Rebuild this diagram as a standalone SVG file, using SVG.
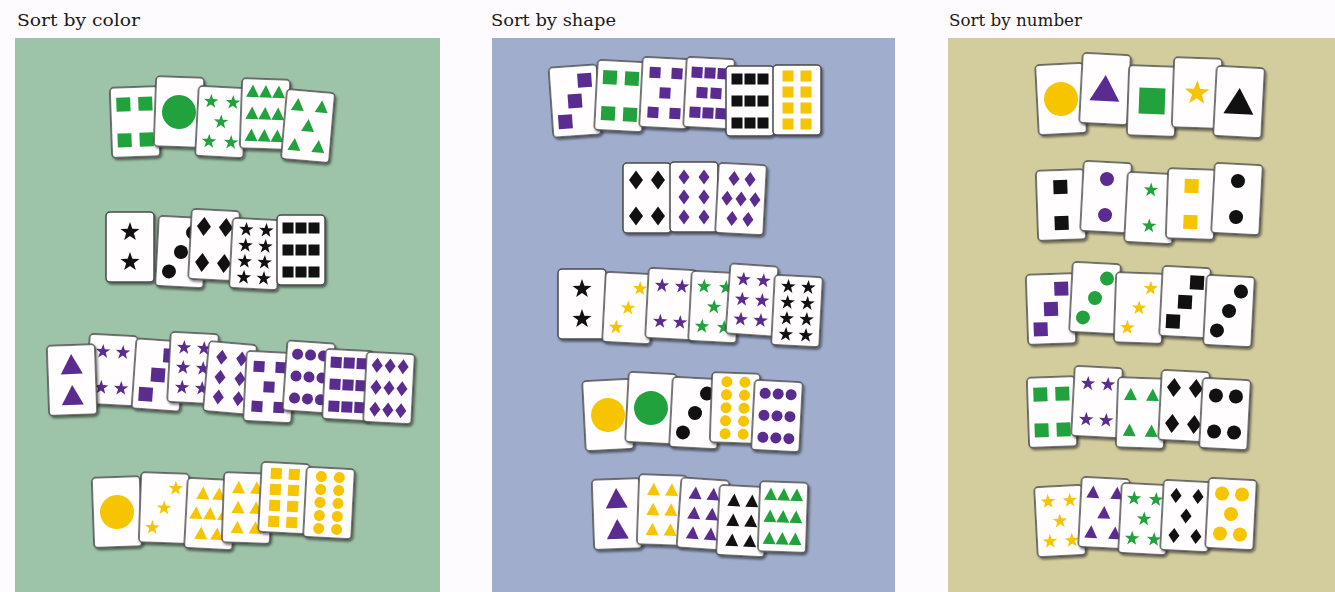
<svg xmlns="http://www.w3.org/2000/svg" width="1335" height="592" viewBox="0 0 1335 592">
<style>
.t{font-family:"DejaVu Serif","Liberation Serif",serif;font-size:17px;fill:#1a1a1a}
.G{fill:#22a23c}.P{fill:#5b2c8f}.B{fill:#111}.Y{fill:#f7c400}
</style>
<defs>
<filter id="sh" x="-20%" y="-20%" width="150%" height="150%"><feDropShadow dx="1.5" dy="2" stdDeviation="1.2" flood-color="#000" flood-opacity="0.5"/></filter>
<rect id="K" x="-24" y="-35" width="48" height="70" rx="4" fill="#fffdfe" stroke="#4a4a4a" stroke-width="1.5" filter="url(#sh)"/>
<rect id="S" x="-5.5" y="-5.5" width="11" height="11"/>
<rect id="Sb" x="-7" y="-7" width="14" height="14"/>
<rect id="Sh" x="-13" y="-13" width="26" height="26"/>
<circle id="C" r="5.5"/>
<circle id="Cb" r="7"/>
<circle id="Ch" r="17"/>
<path id="T" d="M0,-7L6.5,5.5H-6.5Z"/>
<path id="Tb" d="M0,-11L11,9H-11Z"/>
<path id="Th" d="M0,-14L15,12H-15Z"/>
<polygon id="R" points="0,-7.6 1.79,-2.46 7.23,-2.35 2.89,0.94 4.47,6.15 0,3.04 -4.47,6.15 -2.89,0.94 -7.23,-2.35 -1.79,-2.46"/>
<polygon id="Rb" points="0,-10 2.35,-3.24 9.51,-3.09 3.8,1.24 5.88,8.09 0,4 -5.88,8.09 -3.8,1.24 -9.51,-3.09 -2.35,-3.24"/>
<polygon id="Rh" points="0,-13 3.06,-4.21 12.36,-4.02 4.95,1.61 7.64,10.52 0,5.2 -7.64,10.52 -4.95,1.61 -12.36,-4.02 -3.06,-4.21"/>
<path id="D" d="M0,-7.5L5.5,0L0,7.5L-5.5,0Z"/>
<path id="Db" d="M0,-9.5L7,0L0,9.5L-7,0Z"/>
<!-- pip layouts -->
<g id="s4"><use href="#Sb" x="-11" y="-18"/><use href="#Sb" x="11" y="-18"/><use href="#Sb" x="-11" y="18"/><use href="#Sb" x="11" y="18"/></g>
<g id="s9"><use href="#S" x="-13" y="-22"/><use href="#S" x="0" y="-22"/><use href="#S" x="13" y="-22"/><use href="#S" x="-13" y="0"/><use href="#S" x="0" y="0"/><use href="#S" x="13" y="0"/><use href="#S" x="-13" y="22"/><use href="#S" x="0" y="22"/><use href="#S" x="13" y="22"/></g>
<g id="s5"><use href="#S" x="-11" y="-20"/><use href="#S" x="11" y="-20"/><use href="#S" x="0" y="0"/><use href="#S" x="-11" y="20"/><use href="#S" x="11" y="20"/></g>
<g id="s8"><use href="#S" x="-9" y="-24"/><use href="#S" x="9" y="-24"/><use href="#S" x="-9" y="-8"/><use href="#S" x="9" y="-8"/><use href="#S" x="-9" y="8"/><use href="#S" x="9" y="8"/><use href="#S" x="-9" y="24"/><use href="#S" x="9" y="24"/></g>
<g id="s8b"><use href="#S" x="-13" y="-20"/><use href="#S" x="0" y="-20"/><use href="#S" x="13" y="-20"/><use href="#S" x="-7" y="0"/><use href="#S" x="7" y="0"/><use href="#S" x="-13" y="20"/><use href="#S" x="0" y="20"/><use href="#S" x="13" y="20"/></g>
<g id="s3"><use href="#Sb" x="11" y="-20"/><use href="#Sb" x="0" y="0"/><use href="#Sb" x="-11" y="20"/></g>
<g id="s2"><use href="#Sb" x="0" y="-18"/><use href="#Sb" x="0" y="18"/></g>
<g id="c3"><use href="#Cb" x="11" y="-20"/><use href="#Cb" x="0" y="0"/><use href="#Cb" x="-11" y="20"/></g>
<g id="c9"><use href="#C" x="-13" y="-22"/><use href="#C" x="0" y="-22"/><use href="#C" x="13" y="-22"/><use href="#C" x="-13" y="0"/><use href="#C" x="0" y="0"/><use href="#C" x="13" y="0"/><use href="#C" x="-13" y="22"/><use href="#C" x="0" y="22"/><use href="#C" x="13" y="22"/></g>
<g id="c10"><use href="#C" x="-9" y="-26"/><use href="#C" x="9" y="-26"/><use href="#C" x="-9" y="-13"/><use href="#C" x="9" y="-13"/><use href="#C" x="-9" y="0"/><use href="#C" x="9" y="0"/><use href="#C" x="-9" y="13"/><use href="#C" x="9" y="13"/><use href="#C" x="-9" y="26"/><use href="#C" x="9" y="26"/></g>
<g id="c2"><use href="#Cb" x="0" y="-18"/><use href="#Cb" x="0" y="18"/></g>
<g id="c4"><use href="#Cb" x="-10" y="-18"/><use href="#Cb" x="10" y="-18"/><use href="#Cb" x="-10" y="18"/><use href="#Cb" x="10" y="18"/></g>
<g id="c5"><use href="#Cb" x="-10" y="-20"/><use href="#Cb" x="10" y="-20"/><use href="#Cb" x="0" y="0"/><use href="#Cb" x="-10" y="20"/><use href="#Cb" x="10" y="20"/></g>
<g id="r2"><use href="#Rb" x="0" y="-15"/><use href="#Rb" x="0" y="15"/></g>
<g id="r2s"><use href="#R" x="0" y="-18"/><use href="#R" x="0" y="18"/></g>
<g id="r3"><use href="#R" x="11" y="-20"/><use href="#R" x="0" y="0"/><use href="#R" x="-11" y="20"/></g>
<g id="r4"><use href="#R" x="-10" y="-18"/><use href="#R" x="10" y="-18"/><use href="#R" x="-10" y="18"/><use href="#R" x="10" y="18"/></g>
<g id="r5"><use href="#R" x="-11" y="-20"/><use href="#R" x="11" y="-20"/><use href="#R" x="0" y="0"/><use href="#R" x="-11" y="20"/><use href="#R" x="11" y="20"/></g>
<g id="r6"><use href="#R" x="-10" y="-20"/><use href="#R" x="10" y="-20"/><use href="#R" x="-10" y="0"/><use href="#R" x="10" y="0"/><use href="#R" x="-10" y="20"/><use href="#R" x="10" y="20"/></g>
<g id="r8"><use href="#R" x="-10" y="-24"/><use href="#R" x="10" y="-24"/><use href="#R" x="-10" y="-8"/><use href="#R" x="10" y="-8"/><use href="#R" x="-10" y="8"/><use href="#R" x="10" y="8"/><use href="#R" x="-10" y="24"/><use href="#R" x="10" y="24"/></g>
<g id="t2"><use href="#Tb" x="0" y="-15"/><use href="#Tb" x="0" y="16"/></g>
<g id="t9"><use href="#T" x="-13" y="-22"/><use href="#T" x="0" y="-22"/><use href="#T" x="13" y="-22"/><use href="#T" x="-13" y="0"/><use href="#T" x="0" y="0"/><use href="#T" x="13" y="0"/><use href="#T" x="-13" y="22"/><use href="#T" x="0" y="22"/><use href="#T" x="13" y="22"/></g>
<g id="t4"><use href="#T" x="-11" y="-18"/><use href="#T" x="11" y="-18"/><use href="#T" x="-11" y="18"/><use href="#T" x="11" y="18"/></g>
<g id="t5"><use href="#T" x="-12" y="-20"/><use href="#T" x="12" y="-20"/><use href="#T" x="0" y="0"/><use href="#T" x="-12" y="20"/><use href="#T" x="12" y="20"/></g>
<g id="t6"><use href="#T" x="-9" y="-20"/><use href="#T" x="9" y="-20"/><use href="#T" x="-9" y="0"/><use href="#T" x="9" y="0"/><use href="#T" x="-9" y="20"/><use href="#T" x="9" y="20"/></g>
<g id="t7"><use href="#T" x="-8" y="-20"/><use href="#T" x="8" y="-20"/><use href="#T" x="-14" y="0"/><use href="#T" x="0" y="0"/><use href="#T" x="14" y="0"/><use href="#T" x="-8" y="20"/><use href="#T" x="8" y="20"/></g>
<g id="d4"><use href="#Db" x="-11" y="-18"/><use href="#Db" x="11" y="-18"/><use href="#Db" x="-11" y="18"/><use href="#Db" x="11" y="18"/></g>
<g id="d5"><use href="#D" x="-11" y="-20"/><use href="#D" x="11" y="-20"/><use href="#D" x="0" y="0"/><use href="#D" x="-11" y="20"/><use href="#D" x="11" y="20"/></g>
<g id="d6"><use href="#D" x="-10" y="-20"/><use href="#D" x="10" y="-20"/><use href="#D" x="-10" y="0"/><use href="#D" x="10" y="0"/><use href="#D" x="-10" y="20"/><use href="#D" x="10" y="20"/></g>
<g id="d7"><use href="#D" x="-8" y="-20"/><use href="#D" x="8" y="-20"/><use href="#D" x="-14" y="0"/><use href="#D" x="0" y="0"/><use href="#D" x="14" y="0"/><use href="#D" x="-8" y="20"/><use href="#D" x="8" y="20"/></g>
<g id="d9"><use href="#D" x="-13" y="-22"/><use href="#D" x="0" y="-22"/><use href="#D" x="13" y="-22"/><use href="#D" x="-13" y="0"/><use href="#D" x="0" y="0"/><use href="#D" x="13" y="0"/><use href="#D" x="-13" y="22"/><use href="#D" x="0" y="22"/><use href="#D" x="13" y="22"/></g>
</defs>

<rect width="1335" height="592" fill="#fefbfe"/>
<rect x="15" y="38" width="425" height="554" fill="#9dc3a8"/>
<rect x="492" y="38" width="403" height="554" fill="#a0adcd"/>
<rect x="948" y="38" width="387" height="554" fill="#d3cd9e"/>

<text class="t" x="17" y="26" textLength="123" lengthAdjust="spacingAndGlyphs">Sort by color</text>
<text class="t" x="491" y="26" textLength="125" lengthAdjust="spacingAndGlyphs">Sort by shape</text>
<text class="t" x="949" y="26" textLength="133" lengthAdjust="spacingAndGlyphs">Sort by number</text>

<!-- Panel 1: sort by color -->
<g id="color-green">
<g id="p1a1" class="G" transform="translate(135 122) rotate(-2)"><use href="#K"/><use href="#s4"/></g>
<g id="p1a2" class="G" transform="translate(179 112) rotate(2)"><use href="#K"/><use href="#Ch"/></g>
<g id="p1a3" class="G" transform="translate(221 122) rotate(3)"><use href="#K"/><use href="#r5"/></g>
<g id="p1a4" class="G" transform="translate(265 114) rotate(2)"><use href="#K"/><use href="#t9"/></g>
<g id="p1a5" class="G" transform="translate(308 126) rotate(5)"><use href="#K"/><use href="#t5"/></g>
</g>
<g id="color-black">
<g id="p1b1" class="B" transform="translate(130 247)"><use href="#K"/><use href="#r2"/></g>
<g id="p1b2" class="B" transform="translate(181 252) rotate(3)"><use href="#K"/><use href="#c3"/></g>
<g id="p1b3" class="B" transform="translate(214 245) rotate(3)"><use href="#K"/><use href="#d4"/></g>
<g id="p1b4" class="B" transform="translate(255 254) rotate(3)"><use href="#K"/><use href="#r8"/></g>
<g id="p1b5" class="B" transform="translate(301 250)"><use href="#K"/><use href="#s9"/></g>
</g>
<g id="color-purple">
<g id="p1c2" class="P" transform="translate(112 370) rotate(3)"><use href="#K"/><use href="#r4"/></g>
<g id="p1c1" class="P" transform="translate(72 380) rotate(-2)"><use href="#K"/><use href="#t2"/></g>
<g id="p1c3" class="P" transform="translate(158 375) rotate(4)"><use href="#K"/><use href="#s3"/></g>
<g id="p1c4" class="P" transform="translate(193 368) rotate(3)"><use href="#K"/><use href="#r6"/></g>
<g id="p1c5" class="P" transform="translate(230 378) rotate(5)"><use href="#K"/><use href="#d6"/></g>
<g id="p1c6" class="P" transform="translate(269 387) rotate(3)"><use href="#K"/><use href="#s5"/></g>
<g id="p1c7" class="P" transform="translate(309 377) rotate(4)"><use href="#K"/><use href="#c9"/></g>
<g id="p1c8" class="P" transform="translate(348 385) rotate(3)"><use href="#K"/><use href="#s9"/></g>
<g id="p1c9" class="P" transform="translate(389 388) rotate(3)"><use href="#K"/><use href="#d9"/></g>
</g>
<g id="color-yellow">
<g id="p1d1" class="Y" transform="translate(117 512) rotate(-2)"><use href="#K"/><use href="#Ch"/></g>
<g id="p1d2" class="Y" transform="translate(164 508) rotate(2)"><use href="#K"/><use href="#r3"/></g>
<g id="p1d3" class="Y" transform="translate(210 514) rotate(3)"><use href="#K"/><use href="#t7"/></g>
<g id="p1d4" class="Y" transform="translate(247 508) rotate(2)"><use href="#K"/><use href="#t6"/></g>
<g id="p1d5" class="Y" transform="translate(284 498) rotate(3)"><use href="#K"/><use href="#s8"/></g>
<g id="p1d6" class="Y" transform="translate(329 503) rotate(3)"><use href="#K"/><use href="#c10"/></g>
</g>

<!-- Panel 2: sort by shape -->
<g id="shape-squares">
<g id="p2a1" class="P" transform="translate(575 101) rotate(-4)"><use href="#K"/><use href="#s3"/></g>
<g id="p2a2" class="G" transform="translate(620 96) rotate(3)"><use href="#K"/><use href="#s4"/></g>
<g id="p2a3" class="P" transform="translate(665 93) rotate(3)"><use href="#K"/><use href="#s5"/></g>
<g id="p2a4" class="P" transform="translate(709 93) rotate(3)"><use href="#K"/><use href="#s8b"/></g>
<g id="p2a5" class="B" transform="translate(750 101)"><use href="#K"/><use href="#s9"/></g>
<g id="p2a6" class="Y" transform="translate(797 100)"><use href="#K"/><use href="#s8"/></g>
</g>
<g id="shape-diamonds">
<g id="p2b1" class="B" transform="translate(647 198)"><use href="#K"/><use href="#d4"/></g>
<g id="p2b2" class="P" transform="translate(694 197)"><use href="#K"/><use href="#d6"/></g>
<g id="p2b3" class="P" transform="translate(741 199) rotate(3)"><use href="#K"/><use href="#d7"/></g>
</g>
<g id="shape-stars">
<g id="p2c1" class="B" transform="translate(582 304)"><use href="#K"/><use href="#r2"/></g>
<g id="p2c2" class="Y" transform="translate(628 308) rotate(3)"><use href="#K"/><use href="#r3"/></g>
<g id="p2c3" class="P" transform="translate(671 304) rotate(3)"><use href="#K"/><use href="#r4"/></g>
<g id="p2c4" class="G" transform="translate(714 307) rotate(3)"><use href="#K"/><use href="#r5"/></g>
<g id="p2c5" class="P" transform="translate(752 300) rotate(4)"><use href="#K"/><use href="#r6"/></g>
<g id="p2c6" class="B" transform="translate(797 311) rotate(3)"><use href="#K"/><use href="#r8"/></g>
</g>
<g id="shape-circles">
<g id="p2d1" class="Y" transform="translate(608 415) rotate(-3)"><use href="#K"/><use href="#Ch"/></g>
<g id="p2d2" class="G" transform="translate(651 408) rotate(3)"><use href="#K"/><use href="#Ch"/></g>
<g id="p2d3" class="B" transform="translate(695 413) rotate(3)"><use href="#K"/><use href="#c3"/></g>
<g id="p2d4" class="Y" transform="translate(735 408) rotate(2)"><use href="#K"/><use href="#c10"/></g>
<g id="p2d5" class="P" transform="translate(777 416) rotate(3)"><use href="#K"/><use href="#c9"/></g>
</g>
<g id="shape-triangles">
<g id="p2e1" class="P" transform="translate(617 514) rotate(-2)"><use href="#K"/><use href="#t2"/></g>
<g id="p2e2" class="Y" transform="translate(662 510) rotate(2)"><use href="#K"/><use href="#t6"/></g>
<g id="p2e3" class="P" transform="translate(703 514) rotate(4)"><use href="#K"/><use href="#t6"/></g>
<g id="p2e4" class="B" transform="translate(742 521) rotate(3)"><use href="#K"/><use href="#t6"/></g>
<g id="p2e5" class="G" transform="translate(783 517) rotate(2)"><use href="#K"/><use href="#t9"/></g>
</g>

<!-- Panel 3: sort by number -->
<g id="number-1">
<g id="p3a1" class="Y" transform="translate(1061 99) rotate(-3)"><use href="#K"/><use href="#Ch"/></g>
<g id="p3a2" class="P" transform="translate(1105 89) rotate(3)"><use href="#K"/><use href="#Th"/></g>
<g id="p3a3" class="G" transform="translate(1152 101) rotate(2)"><use href="#K"/><use href="#Sh"/></g>
<g id="p3a4" class="Y" transform="translate(1197 93) rotate(2)"><use href="#K"/><use href="#Rh"/></g>
<g id="p3a5" class="B" transform="translate(1239 102) rotate(3)"><use href="#K"/><use href="#Th"/></g>
</g>
<g id="number-2">
<g id="p3b1" class="B" transform="translate(1061 205) rotate(-2)"><use href="#K"/><use href="#s2"/></g>
<g id="p3b2" class="P" transform="translate(1106 197) rotate(3)"><use href="#K"/><use href="#c2"/></g>
<g id="p3b3" class="G" transform="translate(1150 208) rotate(3)"><use href="#K"/><use href="#r2s"/></g>
<g id="p3b4" class="Y" transform="translate(1191 204) rotate(2)"><use href="#K"/><use href="#s2"/></g>
<g id="p3b5" class="B" transform="translate(1237 199) rotate(3)"><use href="#K"/><use href="#c2"/></g>
</g>
<g id="number-3">
<g id="p3c1" class="P" transform="translate(1051 309) rotate(-2)"><use href="#K"/><use href="#s3"/></g>
<g id="p3c2" class="G" transform="translate(1095 298) rotate(3)"><use href="#K"/><use href="#c3"/></g>
<g id="p3c3" class="Y" transform="translate(1139 308) rotate(2)"><use href="#K"/><use href="#r3"/></g>
<g id="p3c4" class="B" transform="translate(1185 302) rotate(3)"><use href="#K"/><use href="#s3"/></g>
<g id="p3c5" class="B" transform="translate(1229 311) rotate(3)"><use href="#K"/><use href="#c3"/></g>
</g>
<g id="number-4">
<g id="p3d1" class="G" transform="translate(1052 412) rotate(-2)"><use href="#K"/><use href="#s4"/></g>
<g id="p3d2" class="P" transform="translate(1097 402) rotate(3)"><use href="#K"/><use href="#r4"/></g>
<g id="p3d3" class="G" transform="translate(1141 413) rotate(2)"><use href="#K"/><use href="#t4"/></g>
<g id="p3d4" class="B" transform="translate(1184 406) rotate(3)"><use href="#K"/><use href="#d4"/></g>
<g id="p3d5" class="B" transform="translate(1225 414) rotate(3)"><use href="#K"/><use href="#c4"/></g>
</g>
<g id="number-5">
<g id="p3e1" class="Y" transform="translate(1060 521) rotate(-3)"><use href="#K"/><use href="#r5"/></g>
<g id="p3e2" class="P" transform="translate(1104 513) rotate(3)"><use href="#K"/><use href="#t5"/></g>
<g id="p3e3" class="G" transform="translate(1144 519) rotate(3)"><use href="#K"/><use href="#r5"/></g>
<g id="p3e4" class="B" transform="translate(1186 516) rotate(3)"><use href="#K"/><use href="#d5"/></g>
<g id="p3e5" class="Y" transform="translate(1231 514) rotate(3)"><use href="#K"/><use href="#c5"/></g>
</g>
</svg>
